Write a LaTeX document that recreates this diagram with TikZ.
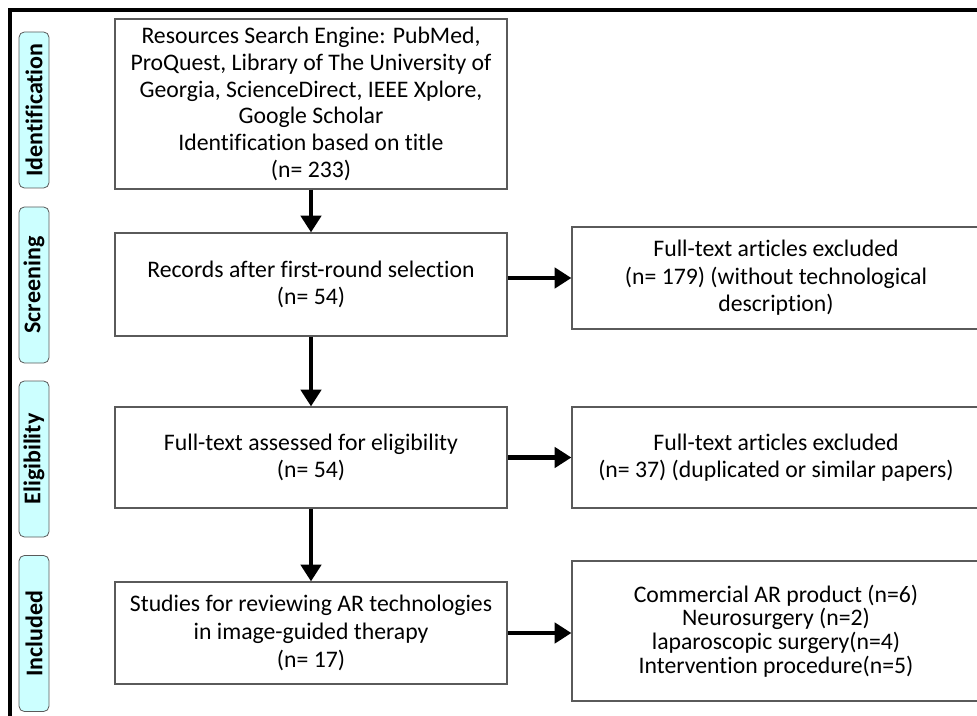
\documentclass[tikz,border=0pt]{standalone}
\usepackage{fontspec}
\setmainfont{Carlito}[Ligatures={NoCommon}]
\usepackage{tikz}
\usetikzlibrary{calc, arrows.meta}

\definecolor{phasefill}{HTML}{CCFFFF}
\definecolor{boxline}{HTML}{5A5A5A}

\begin{document}
\begin{tikzpicture}[x=0.75pt,y=-0.75pt]
\tikzstyle{stage}=[draw=boxline,line width=0.9pt,fill=white,align=center,inner sep=0pt,minimum width=294pt,font=\fontsize{17.8}{20}\selectfont]
\tikzstyle{excl}=[draw=boxline,line width=0.9pt,fill=white,align=center,inner sep=0pt,minimum width=306pt,font=\fontsize{17.8}{20.5}\selectfont]
\tikzstyle{phase}=[draw=boxline,line width=0.6pt,fill=phasefill,rounded corners=4pt,rotate=90,inner sep=0pt,minimum width=117pt,minimum height=22.5pt,font=\fontsize{18}{20}\selectfont\bfseries]
\tikzstyle{flow}=[line width=3.6pt,-{Triangle[length=12.5pt,width=15pt]}]
\clip (0,0) rectangle (977,716);
\draw[line width=2.4pt] (10,716) -- (10,10) -- (977,10);
\node[phase] (P_1) at (34,110) {Identification};
\node[phase] (P_2) at (34,285) {Screening};
\node[phase] (P_3) at (34,459) {Eligibility};
\node[phase] (P_4) at (34,633.5) {Included};
\node[stage,minimum height=127.5pt] (B_1) at (311,104) {Resources Search Engine: PubMed,\\ProQuest, Library of The University of\\Georgia, ScienceDirect, IEEE Xplore,\\Google Scholar\\Identification based on title\\(n= 233)};
\node[stage,minimum height=77.25pt] (B_2) at (311,284.5) {Records after first-round selection\\(n= 54)};
\node[stage,minimum height=75.75pt] (B_3) at (311,457.5) {Full-text assessed for eligibility\\(n= 54)};
\node[stage,minimum height=76.5pt,font=\fontsize{17.8}{21}\selectfont] (B_4) at (311,633) {Studies for reviewing AR technologies\\in image-guided therapy\\(n= 17)};
\node[excl,minimum height=76.5pt] (E_1) at (776,278) {Full-text articles excluded\\(n= 179) (without technological\\description)};
\node[excl,minimum height=75.75pt] (E_2) at (776,457.5) {Full-text articles excluded\\(n= 37) (duplicated or similar papers)};
\node[excl,minimum height=105pt,font=\fontsize{17.8}{17.8}\selectfont] (E_3) at (776,631) {Commercial AR product (n=6)\\Neurosurgery (n=2)\\laparoscopic surgery(n=4)\\Intervention procedure(n=5)};
\draw[flow] (B_1) -- (B_2);
\draw[flow] (B_2) -- (B_3);
\draw[flow] (B_3) -- (B_4);
\draw[flow] (E_1.west -| B_2.east) -- (E_1.west);
\draw[flow] (B_3) -- (E_2);
\draw[flow] (B_4.east) -- (B_4.east -| E_3.west);
\end{tikzpicture}
\end{document}
